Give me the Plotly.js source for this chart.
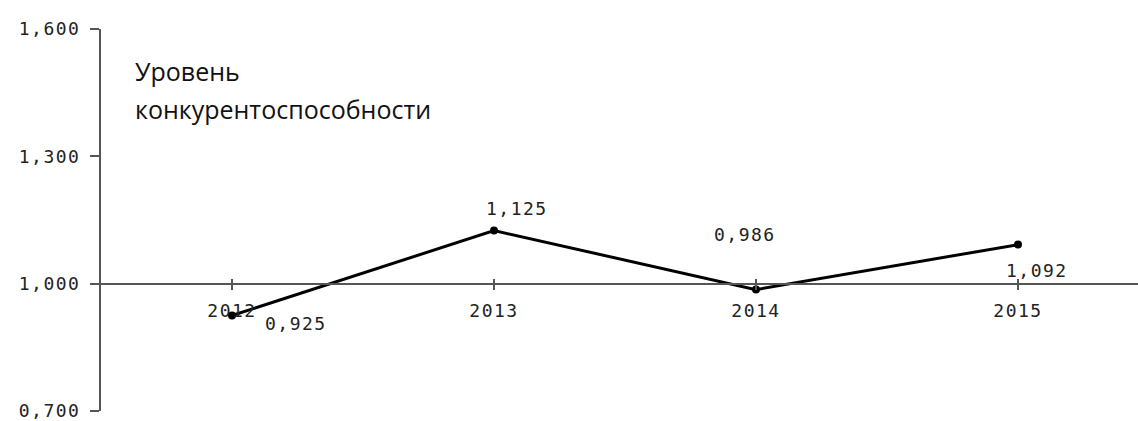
<!DOCTYPE html>
<html>
<head>
<meta charset="utf-8">
<script src="https://cdn.plot.ly/plotly-3.0.1.min.js"></script>
<style>
html,body{margin:0;padding:0;background:#fff;}
#chart{width:1138px;height:421px;}
.xtick text, .ytick text {letter-spacing:1.5px;}
</style>
</head>
<body>
<div id="chart"></div>
<script>
var years = ['2012', '2013', '2014', '2015'];
var values = [0.925, 1.125, 0.986, 1.092];
var valueLabels = ['0,925', '1,125', '0,986', '1,092'];
var yTickVals = [0.7, 1.0, 1.3, 1.6];
var yTickText = ['0,700', '1,000', '1,300', '1,600'];
var titleLines = ['Уровень', 'конкурентоспособности'];

var labelShift = [[64, -8], [23, 22], [-11, 55], [19, -26]];

var numFont = {family: 'DejaVu Sans Mono', size: 18, color: '#222'};
var axisColor = '#555555';

var traces = [
  {
    x: years, y: values, type: 'scatter', mode: 'lines+markers',
    line: {color: '#000', width: 3},
    marker: {color: '#000', size: 8},
    hoverinfo: 'skip', xaxis: 'x', yaxis: 'y'
  },
  {
    x: years, y: values, type: 'scatter', mode: 'markers',
    marker: {opacity: 0}, hoverinfo: 'skip', showlegend: false,
    xaxis: 'x2', yaxis: 'y'
  }
];

var annotations = years.map(function (yr, i) {
  return {
    x: i, y: values[i], xref: 'x', yref: 'y',
    text: '<span style="letter-spacing:1.5px">' + valueLabels[i] + '</span>', showarrow: false,
    xshift: labelShift[i][0], yshift: labelShift[i][1],
    font: numFont
  };
});
annotations.push({
  xref: 'paper', yref: 'paper', x: 0.031, y: 0.890, xanchor: 'left', yanchor: 'middle',
  text: titleLines[0], showarrow: false,
  font: {family: 'Open Sans', size: 25, color: '#111'}
});
annotations.push({
  xref: 'paper', yref: 'paper', x: 0.031, y: 0.791, xanchor: 'left', yanchor: 'middle',
  text: titleLines[1], showarrow: false,
  font: {family: 'Open Sans', size: 25, color: '#111'}
});

var xRange = [-0.5, 3.458];
var axisPos = (1.0 - 0.7) / (1.6 - 0.7);

var layout = {
  width: 1138, height: 421,
  margin: {l: 101, r: 0, t: 29, b: 10, pad: 0},
  paper_bgcolor: '#fff', plot_bgcolor: '#fff',
  showlegend: false,
  xaxis: {
    type: 'category', range: xRange, anchor: 'free', position: axisPos,
    showline: true, linecolor: axisColor, linewidth: 2,
    ticks: 'outside', ticklen: 5, tickwidth: 1.5, tickcolor: axisColor,
    showgrid: false, zeroline: false,
    tickfont: numFont, ticklabelstandoff: 6
  },
  xaxis2: {
    type: 'category', range: xRange, anchor: 'free', position: axisPos, overlaying: 'x',
    showline: false, ticks: 'inside', ticklen: 5, tickwidth: 1.5, tickcolor: axisColor,
    showticklabels: false, showgrid: false, zeroline: false
  },
  yaxis: {
    range: [0.7, 1.6], tickvals: yTickVals, ticktext: yTickText,
    showline: true, linecolor: axisColor, linewidth: 2,
    ticks: 'outside', ticklen: 9, tickwidth: 2, tickcolor: axisColor,
    showgrid: false, zeroline: false, ticklabeloverflow: 'allow',
    tickfont: numFont, ticklabelstandoff: 6
  },
  annotations: annotations
};

Plotly.newPlot('chart', traces, layout, {displayModeBar: false, staticPlot: true});
</script>
</body>
</html>
